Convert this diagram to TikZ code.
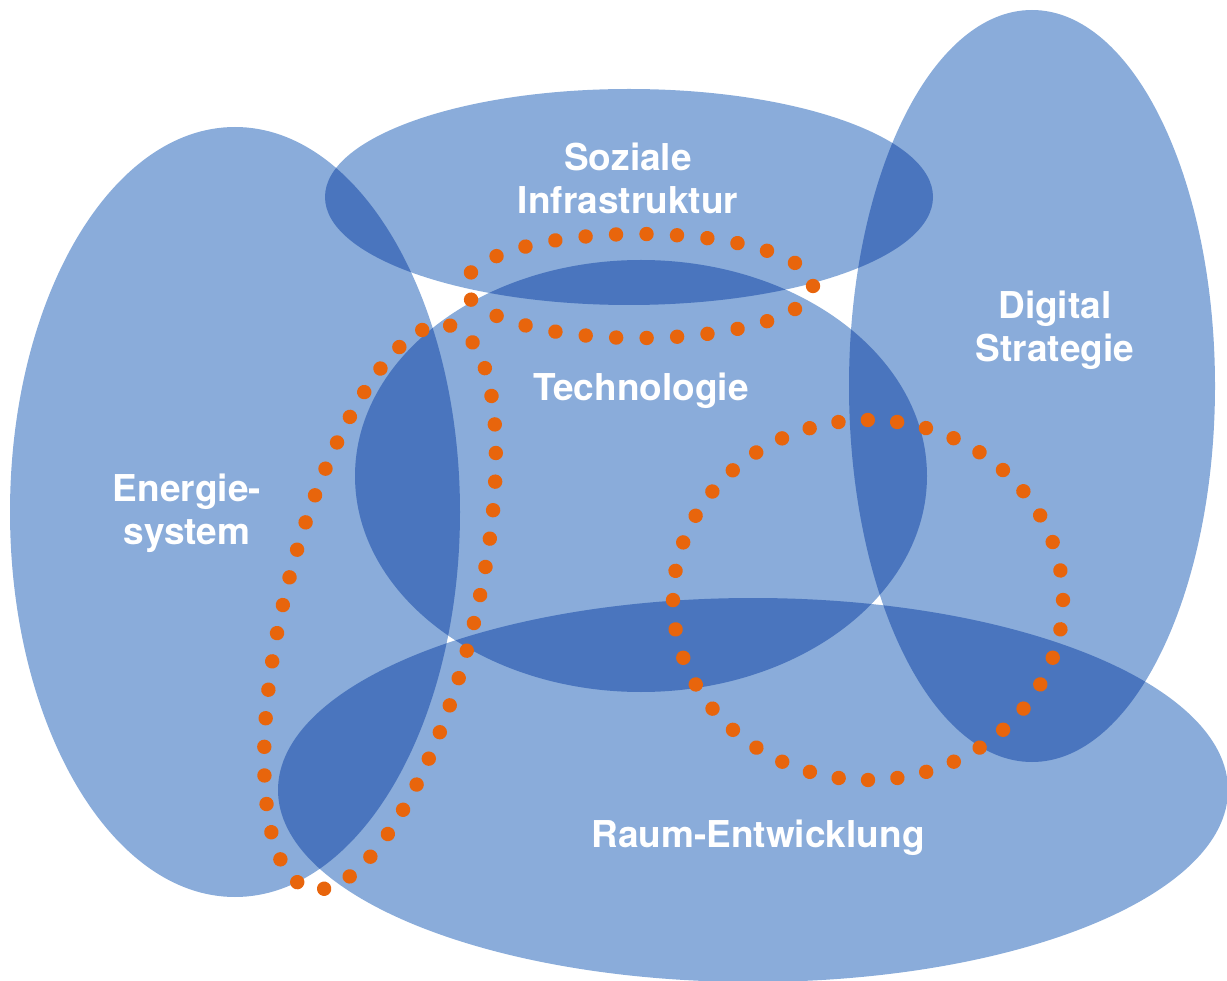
\documentclass[tikz,border=0pt]{standalone}
\usepackage{fontspec}
\setmainfont{TeX Gyre Heros}
\usetikzlibrary{decorations.markings}
\definecolor{lightb}{HTML}{8AACDA}
\definecolor{darkb}{HTML}{4A75BE}
\definecolor{dotor}{HTML}{E8650C}
\def\pE{(235,512) ellipse [x radius=225, y radius=385]}
\def\pS{(629,197) ellipse [x radius=304, y radius=108]}
\def\pD{(1032,386) ellipse [x radius=183, y radius=376]}
\def\pT{(641,476) ellipse [x radius=286, y radius=216]}
\def\pR{(753,790) ellipse [x radius=475, y radius=192]}
\tikzset{
  lbl/.style={text=white, font=\fontsize{37}{43}\selectfont\bfseries, align=center, inner sep=0pt},
  dotring/.style n args={1}{postaction={decorate, decoration={markings,
     mark=between positions 0 and 0.999 step {1/#1} with {\fill[dotor] (0,0) circle (7.2);}}}}
}
\begin{document}
\begin{tikzpicture}[x=1pt,y=-1pt]
\useasboundingbox (0,0) rectangle (1227,981);
\clip (0,0) rectangle (1227,981);
% single coverage
\fill[lightb] \pE; \fill[lightb] \pS; \fill[lightb] \pD; \fill[lightb] \pT; \fill[lightb] \pR;
% double coverage
\begin{scope}\clip \pE; \fill[darkb] \pS;\end{scope}
\begin{scope}\clip \pE; \fill[darkb] \pT;\end{scope}
\begin{scope}\clip \pE; \fill[darkb] \pR;\end{scope}
\begin{scope}\clip \pS; \fill[darkb] \pT;\end{scope}
\begin{scope}\clip \pS; \fill[darkb] \pD;\end{scope}
\begin{scope}\clip \pT; \fill[darkb] \pD;\end{scope}
\begin{scope}\clip \pT; \fill[darkb] \pR;\end{scope}
\begin{scope}\clip \pR; \fill[darkb] \pD;\end{scope}
% triple coverage
\begin{scope}\clip \pE; \clip \pS; \fill[white] \pT;\end{scope}
\begin{scope}\clip \pS; \clip \pT; \fill[white] \pD;\end{scope}
\begin{scope}\clip \pE; \clip \pT; \fill[white] \pR;\end{scope}
\begin{scope}\clip \pT; \clip \pR; \fill[white] \pD;\end{scope}
% labels
\node[lbl] (soz) at (628,178) {Soziale\\Infrastruktur};
\node[lbl] (dig) at (1055,330) {Digital\\Strategie};
\node[lbl] (tec) at (641,391) {Technologie};
\node[lbl] (ene) at (187,513) {Energie-\\system};
\node[lbl] (rau) at (758,838) {Raum-Entwicklung};
% dotted rings
\path[dotring=25] (639,286) ellipse [x radius=174, y radius=52];
\path[dotring=45, rotate around={76:(380,607)}] (380,607) ellipse [x radius=290, y radius=95];
\path[dotring=40] (868,600) ellipse [x radius=195, y radius=180];
\end{tikzpicture}
\end{document}
